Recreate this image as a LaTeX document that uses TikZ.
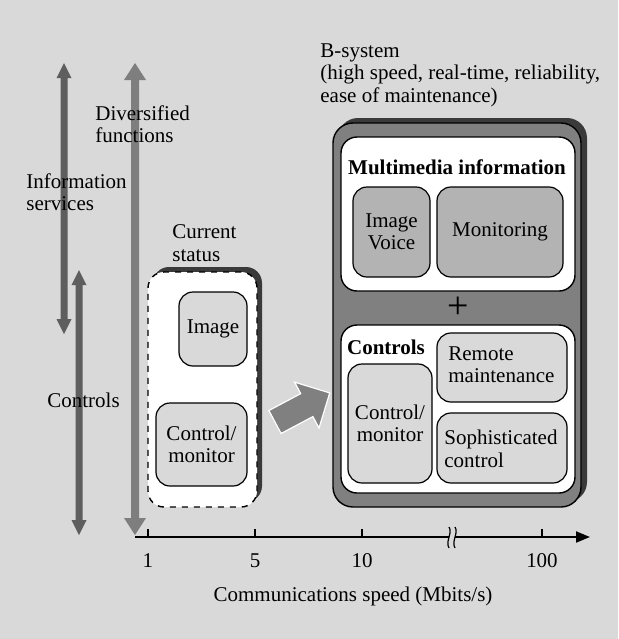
\documentclass[tikz,border=0pt]{standalone}
\usepackage{fontspec}
\setmainfont{Liberation Serif}
\usetikzlibrary{arrows.meta,fit}
\definecolor{bg}{HTML}{D9D9D9}
\definecolor{darkbox}{HTML}{808080}
\definecolor{shadowc}{HTML}{3A3A3A}
\definecolor{midbox}{HTML}{B3B3B3}
\definecolor{lightbox}{HTML}{D9D9D9}
\definecolor{arrdark}{HTML}{5E5E5E}
\definecolor{arrlight}{HTML}{B2B2B2}
\definecolor{arrmid}{HTML}{7E7E7E}
\definecolor{arrmid2}{HTML}{8E8E8E}
\newcommand\vdarrow[7]{%
  \shade[#7] ({#1-#4},{#2+#6}) -- ({#1-#5},{#2+#6}) -- (#1,#2) -- ({#1+#5},{#2+#6}) -- ({#1+#4},{#2+#6})
    -- ({#1+#4},{#3-#6}) -- ({#1+#5},{#3-#6}) -- (#1,#3) -- ({#1-#5},{#3-#6}) -- ({#1-#4},{#3-#6}) -- cycle;}
\begin{document}
\begin{tikzpicture}[x=0.5pt,y=-0.5pt,
  font=\fontsize{10.5}{11.2}\selectfont,
  lbl/.style={inner sep=0pt, align=left},
  blbl/.style={inner sep=0pt, align=left, font=\bfseries\fontsize{10.5}{11.2}\selectfont},
  outerbox/.style={draw=black, line width=0.7pt, inner sep=0pt},
  inbox/.style={draw=black, line width=0.6pt, rounded corners=7pt, inner sep=0pt},
  tick/.style={line width=0.6pt}]
% background
\fill[bg] (0,0) rectangle (618,639);
\useasboundingbox (0,0) rectangle (618,639);

% vertical double arrows
\vdarrow{64}{63}{334}{3.5}{7.5}{15}{top color=arrdark, middle color=arrlight, bottom color=arrdark}
\vdarrow{79}{270}{535}{3.5}{7.5}{15}{top color=arrdark, middle color=arrlight, bottom color=arrdark}
\vdarrow{135}{63}{535}{4}{11}{17}{top color=arrmid, middle color=arrmid2, bottom color=arrmid}

% current status boxes
\fill[shadowc, rounded corners=8pt] (153,267) rectangle (262,502);
\node[outerbox, fill=white, dashed, rounded corners=8pt, fit={(148,272) (257,507)}] (cur) {};
\node[inbox, fill=lightbox, fit={(179,292) (247,366)}] (cimg) {};
\node[inbox, fill=lightbox, fit={(156,403) (247,486)}] (cctl) {};

% big block arrow
\begin{scope}[shift={(275,422)}, rotate=28]
\draw[white, fill=darkbox, line width=0.6pt, line join=miter]
  (0,-13) -- (36,-13) -- (36,-26) -- (62,0) -- (36,26) -- (36,13) -- (0,13) -- cycle;
\end{scope}

% B-system boxes
\fill[shadowc, rounded corners=10pt] (338,118) rectangle (587,502);
\node[outerbox, fill=darkbox, rounded corners=10pt, fit={(333,123) (581,507)}] (bsys) {};
\node[outerbox, fill=white, rounded corners=8pt, fit={(341,137) (575,291)}] (mm) {};
\node[inbox, fill=midbox, fit={(353,187) (430,277)}] (iv) {};
\node[inbox, fill=midbox, fit={(437,187) (563,277)}] (mon) {};
\node[outerbox, fill=white, rounded corners=8pt, fit={(341,325) (575,493)}] (cb) {};
\node[inbox, fill=lightbox, fit={(348,364) (432,483)}] (bcm) {};
\node[inbox, fill=lightbox, fit={(437,333) (567,402)}] (rm) {};
\node[inbox, fill=lightbox, fit={(437,413) (567,483)}] (sc) {};

% axis
\coordinate (ax0) at (135,537);
\coordinate (ax1) at (590,537);
\draw[line width=1pt, -{Triangle[length=7pt,width=5.5pt]}] (ax0) -- (ax1);
\foreach \xx in {148,255,362,542}{
  \draw[tick] (\xx,537) -- (\xx,529);
}
\fill[bg] (449,530) rectangle (455,544);
\draw[line width=0.6pt] (449,527) .. controls (453,533) and (445,541) .. (449,548);
\draw[line width=0.6pt] (455,527) .. controls (459,533) and (451,541) .. (455,548);

% ---- all texts ----
\node[lbl, anchor=west] (info) at (26,192) {Information\\services};
\node[lbl, anchor=west] (ctrl) at (47,400) {Controls};
\node[lbl, anchor=west] (div) at (95,124) {Diversified\\functions};
\node[lbl, anchor=west] (curlbl) at (172,243) {Current\\status};
\node[lbl, align=center] (cimgt) at (cimg.center) {Image};
\node[lbl, align=center] (cctlt) at (cctl.center) {Control/\\monitor};
\node[lbl, anchor=west] (blbl) at (320,75) {B-system\\(high speed, real-time, reliability,\\ease of maintenance)};
\node[blbl] (mmt) at (457,167) {Multimedia information};
\node[lbl, align=center] (ivt) at (iv.center) {Image\\Voice};
\node[lbl] (mont) at (mon.center) {Monitoring};
\node[inner sep=0pt, font=\fontsize{19}{19}\selectfont] (plus) at (458,308) {+};
\node[blbl] (cbt) at (386,347) {Controls};
\node[lbl, align=center] (bcmt) at (bcm.center) {Control/\\monitor};
\node[lbl, anchor=west] (rmt) at (448,365) {Remote\\maintenance};
\node[lbl, anchor=west] (sct) at (444,449) {Sophisticated\\control};
\node[lbl] (l1) at (148,561) {1};
\node[lbl] (l5) at (255,561) {5};
\node[lbl] (l10) at (362,561) {10};
\node[lbl] (l100) at (542,561) {100};
\node[lbl] (axlbl) at (353,596) {Communications speed (Mbits/s)};
\end{tikzpicture}
\end{document}
